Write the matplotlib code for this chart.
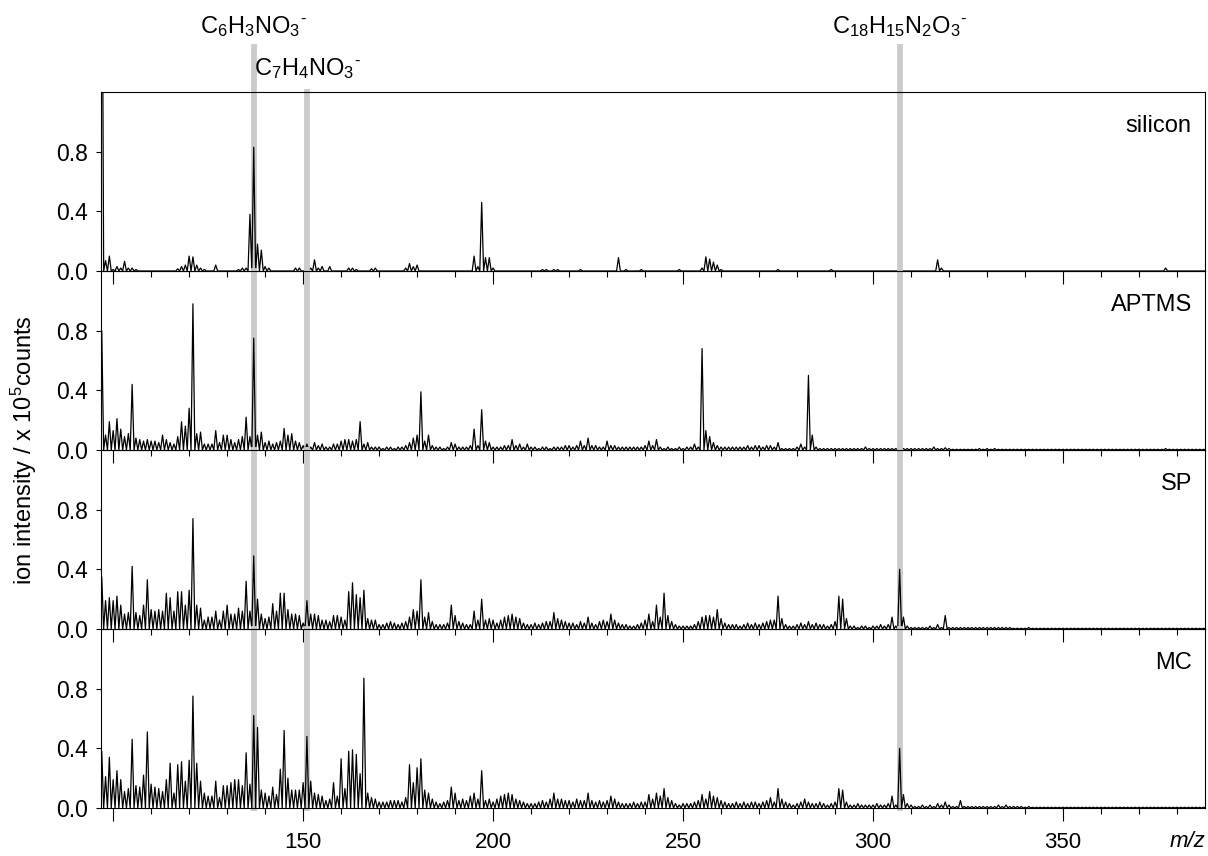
import numpy as np
import matplotlib
matplotlib.use('Agg')
import matplotlib.pyplot as plt

plt.rcParams['font.family'] = ['Liberation Sans', 'DejaVu Sans']
plt.rcParams['mathtext.fontset'] = 'custom'
plt.rcParams['mathtext.rm'] = 'Liberation Sans'
plt.rcParams['mathtext.it'] = 'Liberation Sans:italic'
plt.rcParams['mathtext.bf'] = 'Liberation Sans:bold'

# one intensity (x 10^5 counts) per nominal mass, masses 90 ... 389, rows of 10
mass_start = 90

silicon = [
    0, 0, 0, 0, 0, 0, 0, 3.0, 0.07, 0.10,
    0.01, 0.03, 0.02, 0.065, 0.02, 0.02, 0.01, 0, 0, 0,
    0, 0, 0, 0, 0, 0, 0, 0.015, 0.03, 0.04,
    0.10, 0.095, 0.04, 0.02, 0.01, 0, 0, 0.04, 0, 0,
    0, 0, 0, 0.01, 0.02, 0.02, 0.38, 0.83, 0.18, 0.14,
    0.03, 0.02, 0, 0, 0, 0, 0, 0, 0.02, 0.02,
    0, 0, 0.02, 0.075, 0.02, 0.03, 0, 0.03, 0, 0,
    0, 0, 0.02, 0.02, 0.01, 0, 0, 0, 0.015, 0.02,
    0, 0, 0, 0, 0, 0, 0, 0.02, 0.05, 0.03,
    0.04, 0, 0, 0, 0, 0, 0, 0, 0, 0,
    0, 0, 0, 0, 0, 0.10, 0.03, 0.46, 0.09, 0.09,
    0.02, 0, 0, 0, 0, 0, 0, 0, 0, 0,
    0, 0, 0, 0.01, 0.01, 0, 0.01, 0.01, 0, 0,
    0, 0, 0, 0.01, 0, 0, 0, 0, 0, 0,
    0, 0, 0, 0.09, 0, 0.01, 0, 0, 0, 0.01,
    0, 0, 0, 0, 0, 0, 0, 0, 0, 0.01,
    0, 0, 0, 0, 0, 0.02, 0.095, 0.08, 0.06, 0.04,
    0.01, 0, 0, 0, 0, 0, 0, 0, 0, 0,
    0, 0, 0, 0, 0, 0.01, 0, 0, 0, 0,
    0, 0, 0, 0, 0, 0, 0, 0, 0, 0.01,
    0, 0, 0, 0, 0, 0, 0, 0, 0, 0,
    0, 0, 0, 0, 0, 0, 0, 0, 0, 0,
    0, 0, 0, 0, 0, 0, 0, 0.075, 0.02, 0,
    0, 0, 0, 0, 0, 0, 0, 0, 0, 0,
    0, 0, 0, 0, 0, 0, 0, 0, 0, 0,
    0, 0, 0, 0, 0, 0, 0, 0, 0, 0,
    0, 0, 0, 0, 0, 0, 0, 0, 0, 0,
    0, 0, 0, 0, 0, 0, 0, 0, 0, 0,
    0, 0, 0, 0, 0, 0, 0, 0.02, 0, 0,
    0, 0, 0, 0, 0, 0, 0, 0, 0, 0,
]

aptms = [
    0, 0, 0, 0, 0, 0, 0, 0.80, 0.10, 0.19,
    0.13, 0.21, 0.14, 0.09, 0.11, 0.44, 0.08, 0.07, 0.06, 0.07,
    0.06, 0.06, 0.05, 0.10, 0.07, 0.05, 0.04, 0.09, 0.19, 0.16,
    0.28, 0.98, 0.11, 0.12, 0.04, 0.04, 0.04, 0.13, 0.05, 0.10,
    0.10, 0.07, 0.05, 0.07, 0.09, 0.22, 0.09, 0.75, 0.10, 0.12,
    0.05, 0.06, 0.04, 0.05, 0.06, 0.145, 0.10, 0.11, 0.06, 0.05,
    0.03, 0.04, 0.02, 0.05, 0.03, 0.04, 0.02, 0.02, 0.04, 0.04,
    0.06, 0.07, 0.07, 0.06, 0.07, 0.19, 0.04, 0.05, 0.02, 0.02,
    0.02, 0.01, 0.02, 0.02, 0.01, 0.02, 0.02, 0.03, 0.05, 0.08,
    0.10, 0.39, 0.06, 0.10, 0.03, 0.02, 0.02, 0.01, 0.02, 0.05,
    0.04, 0.02, 0.02, 0.02, 0.03, 0.14, 0.03, 0.27, 0.06, 0.05,
    0.02, 0.02, 0.02, 0.03, 0.03, 0.07, 0.03, 0.04, 0.02, 0.04,
    0.02, 0.02, 0.01, 0.02, 0.02, 0.01, 0.02, 0.02, 0.02, 0.03,
    0.03, 0.02, 0.03, 0.06, 0.03, 0.08, 0.03, 0.03, 0.02, 0.02,
    0.06, 0.03, 0.03, 0.02, 0.02, 0.02, 0.02, 0.02, 0.02, 0.02,
    0.03, 0.06, 0.03, 0.07, 0.02, 0.01, 0.02, 0.01, 0.01, 0.02,
    0.01, 0.02, 0.02, 0.04, 0.02, 0.68, 0.13, 0.09, 0.05, 0.03,
    0.02, 0.02, 0.02, 0.02, 0.02, 0.02, 0.02, 0.03, 0.02, 0.03,
    0.03, 0.02, 0.03, 0.03, 0.02, 0.05, 0.01, 0.01, 0.01, 0.01,
    0.02, 0.04, 0.02, 0.50, 0.10, 0.02, 0.01, 0.01, 0.01, 0.01,
    0.01, 0.01, 0.01, 0.01, 0.01, 0.01, 0.01, 0.01, 0.02, 0.01,
    0.01, 0.01, 0.01, 0.01, 0.01, 0.01, 0.01, 0.01, 0.01, 0.01,
    0.01, 0.01, 0.01, 0.01, 0.01, 0.01, 0.02, 0.01, 0.01, 0.015,
    0.01, 0.005, 0.005, 0.005, 0.005, 0.005, 0.005, 0.005, 0.01, 0.005,
    0.01, 0.005, 0.01, 0.005, 0.005, 0.005, 0.005, 0.005, 0.005, 0.005,
    0.005, 0.005, 0.005, 0.005, 0.005, 0.005, 0.005, 0.005, 0.005, 0.005,
    0.005, 0.005, 0.005, 0.005, 0.005, 0.005, 0.005, 0.005, 0.005, 0.005,
    0.005, 0.005, 0.005, 0.005, 0.005, 0.005, 0.005, 0.005, 0.005, 0.005,
    0.005, 0.005, 0.005, 0.005, 0.005, 0.005, 0.005, 0.01, 0.005, 0.005,
    0.005, 0.005, 0.005, 0.005, 0.005, 0.005, 0.005, 0.005, 0.005, 0.005,
]

sp = [
    0, 0, 0, 0, 0, 0, 0, 0.35, 0.19, 0.21,
    0.19, 0.22, 0.16, 0.10, 0.11, 0.42, 0.11, 0.09, 0.16, 0.33,
    0.13, 0.12, 0.13, 0.12, 0.24, 0.21, 0.12, 0.25, 0.25, 0.16,
    0.26, 0.74, 0.16, 0.14, 0.06, 0.08, 0.08, 0.12, 0.06, 0.12,
    0.16, 0.10, 0.10, 0.14, 0.12, 0.32, 0.12, 0.49, 0.20, 0.10,
    0.07, 0.08, 0.17, 0.12, 0.24, 0.24, 0.13, 0.10, 0.10, 0.09,
    0.04, 0.19, 0.10, 0.10, 0.09, 0.06, 0.06, 0.05, 0.09, 0.09,
    0.08, 0.06, 0.25, 0.31, 0.23, 0.21, 0.26, 0.07, 0.06, 0.06,
    0.03, 0.03, 0.04, 0.05, 0.04, 0.03, 0.04, 0.05, 0.08, 0.13,
    0.12, 0.33, 0.08, 0.11, 0.05, 0.03, 0.03, 0.03, 0.04, 0.16,
    0.09, 0.05, 0.04, 0.03, 0.03, 0.12, 0.06, 0.20, 0.06, 0.07,
    0.06, 0.04, 0.06, 0.08, 0.09, 0.10, 0.08, 0.07, 0.04, 0.03,
    0.03, 0.04, 0.03, 0.04, 0.05, 0.05, 0.11, 0.07, 0.06, 0.05,
    0.04, 0.04, 0.03, 0.05, 0.04, 0.08, 0.04, 0.03, 0.05, 0.06,
    0.05, 0.10, 0.06, 0.04, 0.03, 0.03, 0.02, 0.02, 0.03, 0.04,
    0.06, 0.10, 0.05, 0.16, 0.08, 0.24, 0.09, 0.05, 0.03, 0.02,
    0.02, 0.02, 0.02, 0.03, 0.05, 0.08, 0.09, 0.09, 0.08, 0.13,
    0.07, 0.04, 0.03, 0.03, 0.03, 0.02, 0.03, 0.04, 0.03, 0.04,
    0.03, 0.04, 0.05, 0.06, 0.06, 0.22, 0.07, 0.03, 0.02, 0.02,
    0.03, 0.04, 0.03, 0.05, 0.03, 0.04, 0.03, 0.03, 0.02, 0.03,
    0.05, 0.22, 0.20, 0.07, 0.02, 0.02, 0.01, 0.02, 0.02, 0.01,
    0.02, 0.02, 0.03, 0.02, 0.03, 0.08, 0.02, 0.40, 0.08, 0.02,
    0.01, 0.01, 0.01, 0.01, 0.01, 0.02, 0.01, 0.03, 0.01, 0.09,
    0.01, 0.01, 0.01, 0.01, 0.01, 0.01, 0.01, 0.01, 0.01, 0.01,
    0.01, 0.01, 0.01, 0.01, 0.01, 0.01, 0.01, 0.005, 0.005, 0.005,
    0.005, 0.01, 0.005, 0.005, 0.005, 0.005, 0.005, 0.005, 0.005, 0.005,
    0.005, 0.005, 0.005, 0.005, 0.005, 0.005, 0.005, 0.005, 0.005, 0.005,
    0.005, 0.005, 0.005, 0.005, 0.005, 0.005, 0.005, 0.005, 0.005, 0.005,
    0.005, 0.005, 0.005, 0.005, 0.005, 0.005, 0.005, 0.005, 0.005, 0.005,
    0.005, 0.005, 0.005, 0.005, 0.005, 0.005, 0.005, 0.005, 0.005, 0.005,
]

mc = [
    0, 0, 0, 0, 0, 0, 0, 0.38, 0.21, 0.34,
    0.19, 0.25, 0.19, 0.11, 0.13, 0.46, 0.15, 0.14, 0.22, 0.51,
    0.16, 0.14, 0.13, 0.11, 0.19, 0.30, 0.10, 0.29, 0.31, 0.18,
    0.32, 0.75, 0.30, 0.18, 0.10, 0.08, 0.08, 0.18, 0.07, 0.15,
    0.15, 0.17, 0.19, 0.19, 0.15, 0.37, 0.16, 0.62, 0.54, 0.12,
    0.10, 0.08, 0.14, 0.09, 0.26, 0.52, 0.20, 0.12, 0.12, 0.12,
    0.17, 0.48, 0.18, 0.10, 0.09, 0.08, 0.05, 0.06, 0.17, 0.08,
    0.33, 0.13, 0.38, 0.39, 0.36, 0.23, 0.87, 0.10, 0.07, 0.06,
    0.04, 0.04, 0.04, 0.05, 0.05, 0.05, 0.04, 0.07, 0.29, 0.17,
    0.27, 0.33, 0.12, 0.10, 0.06, 0.04, 0.03, 0.04, 0.05, 0.14,
    0.10, 0.05, 0.06, 0.05, 0.08, 0.10, 0.06, 0.25, 0.05, 0.06,
    0.04, 0.06, 0.08, 0.09, 0.10, 0.09, 0.06, 0.05, 0.04, 0.03,
    0.03, 0.03, 0.04, 0.05, 0.04, 0.06, 0.10, 0.06, 0.06, 0.05,
    0.05, 0.04, 0.06, 0.05, 0.05, 0.10, 0.05, 0.04, 0.05, 0.04,
    0.05, 0.08, 0.06, 0.04, 0.03, 0.03, 0.03, 0.04, 0.03, 0.04,
    0.04, 0.09, 0.06, 0.10, 0.08, 0.13, 0.07, 0.05, 0.03, 0.02,
    0.03, 0.03, 0.03, 0.04, 0.05, 0.09, 0.06, 0.11, 0.08, 0.07,
    0.05, 0.04, 0.03, 0.03, 0.04, 0.03, 0.04, 0.03, 0.04, 0.04,
    0.03, 0.04, 0.05, 0.07, 0.04, 0.13, 0.06, 0.04, 0.03, 0.02,
    0.03, 0.04, 0.06, 0.04, 0.03, 0.03, 0.04, 0.03, 0.02, 0.03,
    0.04, 0.13, 0.12, 0.04, 0.02, 0.02, 0.03, 0.02, 0.02, 0.02,
    0.02, 0.03, 0.02, 0.02, 0.03, 0.08, 0.02, 0.40, 0.09, 0.03,
    0.02, 0.01, 0.01, 0.02, 0.01, 0.02, 0.01, 0.03, 0.02, 0.04,
    0.02, 0.01, 0.01, 0.05, 0.01, 0.01, 0.01, 0.01, 0.01, 0.01,
    0.01, 0.01, 0.01, 0.02, 0.01, 0.02, 0.01, 0.01, 0.01, 0.01,
    0.005, 0.01, 0.005, 0.005, 0.005, 0.005, 0.005, 0.005, 0.005, 0.005,
    0.005, 0.005, 0.005, 0.005, 0.005, 0.005, 0.005, 0.005, 0.005, 0.005,
    0.005, 0.005, 0.005, 0.005, 0.005, 0.005, 0.005, 0.005, 0.005, 0.005,
    0.005, 0.005, 0.005, 0.005, 0.005, 0.005, 0.005, 0.005, 0.005, 0.005,
    0.005, 0.005, 0.005, 0.005, 0.005, 0.005, 0.005, 0.005, 0.005, 0.005,
]

spectra = [silicon, aptms, sp, mc]
panel_names = ['silicon', 'APTMS', 'SP', 'MC']

# marked ions: position and label (short hyphen as the charge sign)
ion_mz = [137, 151, 307]
ion_labels = ['C$_6$H$_3$NO$_3{}^{\u2010}$', 'C$_7$H$_4$NO$_3{}^{\u2010}$',
              'C$_{18}$H$_{15}$N$_2$O$_3{}^{\u2010}$']
ion_text_y = [1.33, 1.095, 1.33]      # axes fraction of top panel
ion_line_top = [1.25, 1.0, 1.25]

x_major = [100, 150, 200, 250, 300, 350]
x_labels = ['', '150', '200', '250', '300', '350']
y_ticks = [0.0, 0.4, 0.8]


def stick_trace(values):
    # each nominal mass drawn as a narrow peak that falls back to zero in between
    vals = np.asarray(values, dtype=float)
    m = mass_start + np.arange(len(vals))
    xs = np.empty(2 * len(vals) + 1)
    ys = np.zeros(2 * len(vals) + 1)
    xs[0:-1:2] = m - 0.5
    xs[1::2] = m
    xs[-1] = m[-1] + 0.5
    ys[1::2] = vals
    return xs, ys


fig = plt.figure(figsize=(12.08, 8.56), dpi=100)
left, width = 0.0836, 0.914
bottom0, h = 0.0561, 0.2091
gray = '#cbcbcb'

axes = []
for i, (name, vals) in enumerate(zip(panel_names, spectra)):
    b = bottom0 + (3 - i) * h
    ax = fig.add_axes([left, b, width, h])
    ax.set_facecolor('none')
    xs, ys = stick_trace(vals)
    ax.plot(xs, ys, color='black', lw=0.9, zorder=3)
    for k, mz in enumerate(ion_mz):
        top = ion_line_top[k] if i == 0 else 1.0
        ax.axvline(mz, ymin=0, ymax=top, color=gray, lw=4.2, zorder=1,
                   clip_on=False)
    ax.set_xlim(96.8, 387.4)
    ax.set_ylim(0, 1.2)
    ax.set_yticks(y_ticks)
    ax.set_yticklabels(['%.1f' % t for t in y_ticks])
    ax.set_xticks(x_major)
    ax.set_xticks(np.arange(100, 390, 10), minor=True)
    ax.tick_params(axis='x', which='major', direction='out', length=9.5,
                   width=0.8, pad=8, labelsize=16)
    ax.tick_params(axis='x', which='minor', direction='out', length=4.5,
                   width=0.8)
    ax.tick_params(axis='y', direction='out', length=3.3, width=0.8, pad=6,
                   labelsize=16.5)
    if i < 3:
        ax.tick_params(axis='x', labelbottom=False)
    else:
        ax.set_xticklabels(x_labels)
    for s in ax.spines.values():
        s.set_linewidth(0.8)
    ax.text(0.988, 0.81, name, transform=ax.transAxes, ha='right',
            va='center', fontsize=17)
    axes.append(ax)

top_ax = axes[0]
for mz, lab, ty in zip(ion_mz, ion_labels, ion_text_y):
    top_ax.text(mz, ty, lab, transform=top_ax.get_xaxis_transform(),
                ha='center', va='baseline', fontsize=17)

axes[-1].text(1.0, -0.19, 'm/z', transform=axes[-1].transAxes, ha='right',
              va='center', fontsize=16, fontstyle='italic')

fig.text(0.02, 0.474, r'ion intensity / x 10$^5$counts', rotation=90,
         ha='center', va='center', fontsize=17)

fig.savefig('out.png', dpi=100)
